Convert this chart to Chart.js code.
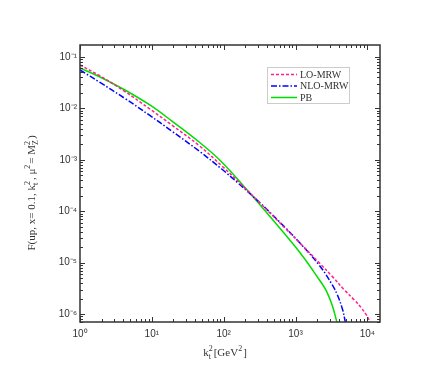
<!DOCTYPE html>
<html>
<head>
<meta charset="utf-8">
<script src="https://cdn.jsdelivr.net/npm/chart.js@4"></script>
<style>body{margin:0;background:#fff}</style>
</head>
<body>
<canvas id="myChart" width="442" height="387"></canvas>
<script>
// k_t^2 values and F values
const kLO = [1, 1.9, 4.22, 9.38, 18.9, 46.4, 96.8, 167, 316, 750, 1250, 2154, 3265, 4795, 6595, 8254, 9690, 11010]
const fLO = [0.0698, 0.0427, 0.0213, 9.73e-3, 4.75e-3, 1.85e-3, 7.35e-4, 3.54e-4, 1.47e-4, 4.39e-5, 2.14e-5, 9.8e-6, 5.34e-6, 2.93e-6, 1.87e-6, 1.31e-6, 9.6e-7, 6.9e-7]

const kNLO = [1, 1.9, 4.22, 9.38, 18.9, 46.4, 93.8, 156, 316, 750, 1136, 2154, 3265, 3831, 4496, 4948]
const fNLO = [0.0558, 0.0319, 0.0156, 7.28e-3, 3.63e-3, 1.45e-3, 6.62e-4, 3.6e-4, 1.48e-4, 4.53e-5, 2.46e-5, 8.8e-6, 3.66e-6, 2.34e-6, 1.25e-6, 6.9e-7]

const kPB = [1, 1.9, 4.22, 9.38, 18.9, 46.4, 88, 184, 435, 1136, 2154, 2697, 3265, 3707, 3768]
const fPB = [0.0611, 0.0408, 0.0228, 0.01164, 5.7e-3, 2.17e-3, 9.9e-4, 3.24e-4, 8.07e-5, 1.61e-5, 4.6e-6, 2.8e-6, 1.43e-6, 7.6e-7, 6.9e-7]

const seriesNames = ['LO-MRW', 'NLO-MRW', 'PB']
const seriesColors = ['#ff1f8f', '#0000ff', '#00dd00']
const seriesDash = [[3, 2], [6, 2, 1.5, 2], []]

const pts = (k, f) => k.map((v, i) => ({x: v, y: f[i]}))

const sup = {'-': '\u207b', '0': '\u2070', '1': '\u00b9', '2': '\u00b2', '3': '\u00b3', '4': '\u2074', '5': '\u2075', '6': '\u2076', '7': '\u2077', '8': '\u2078', '9': '\u2079'}

function mant(v) {
  const e = Math.floor(Math.log10(v) + 1e-9)
  const m = v / Math.pow(10, e)
  const r = Math.round(m)
  if (Math.abs(m - r) < 1e-6 && r >= 1 && r <= 9) return r
  return 0
}

function powLabel(v) {
  if (mant(v) !== 1) return ''
  const e = Math.round(Math.log10(v))
  return '10' + String(e).split('').map(c => sup[c]).join('')
}

function richText(ctx, parts, x, y, rot, size) {
  ctx.save()
  ctx.translate(x, y)
  ctx.rotate(rot)
  const big = size + 'px "Liberation Serif"'
  const small = Math.round(size * 0.7) + 'px "Liberation Serif"'
  let w = 0
  parts.forEach(p => {
    if (typeof p === 'string') { ctx.font = big; w += ctx.measureText(p).width }
    else { ctx.font = small; w += Math.max(ctx.measureText(p.sub || '').width, ctx.measureText(p.sup || '').width) + 1 }
  })
  let cx = -w / 2
  ctx.textBaseline = 'middle'
  ctx.textAlign = 'left'
  ctx.fillStyle = '#333'
  parts.forEach(p => {
    if (typeof p === 'string') {
      ctx.font = big
      ctx.fillText(p, cx, 0)
      cx += ctx.measureText(p).width
    } else {
      ctx.font = small
      if (p.sup) ctx.fillText(p.sup, cx, -size * 0.38)
      if (p.sub) ctx.fillText(p.sub, cx, size * 0.32)
      cx += Math.max(ctx.measureText(p.sub || '').width, ctx.measureText(p.sup || '').width) + 1
    }
  })
  ctx.restore()
}

const frame = {
  id: 'frame',
  afterDraw(chart) {
    const {ctx, chartArea: a, scales: {x, y}} = chart
    ctx.save()
    ctx.strokeStyle = '#333'
    ctx.lineWidth = 1
    const seg = (x1, y1, x2, y2) => { ctx.beginPath(); ctx.moveTo(x1, y1); ctx.lineTo(x2, y2); ctx.stroke() }
    x.ticks.forEach(t => {
      const m = mant(t.value)
      if (!m) return
      const px = Math.round(x.getPixelForValue(t.value)) + 0.5
      const len = m === 1 ? 5 : 3
      seg(px, a.bottom, px, a.bottom - len)
      seg(px, a.top, px, a.top + len)
    })
    y.ticks.forEach(t => {
      const m = mant(t.value)
      if (!m) return
      const py = Math.round(y.getPixelForValue(t.value)) + 0.5
      const len = m === 1 ? 5 : 3
      seg(a.left, py, a.left + len, py)
      seg(a.right, py, a.right - len, py)
    })
    ctx.lineWidth = 1.5
    ctx.strokeRect(a.left, a.top, a.right - a.left, a.bottom - a.top)

    // legend
    ctx.lineWidth = 1
    ctx.strokeStyle = '#ccc'
    ctx.strokeRect(267.5, 67.5, 82, 36)
    ctx.font = '10px "Liberation Serif"'
    ctx.textBaseline = 'middle'
    ctx.textAlign = 'left'
    seriesNames.forEach((n, i) => {
      const ly = 74.5 + i * 11.5
      ctx.strokeStyle = seriesColors[i]
      ctx.lineWidth = 1.5
      ctx.setLineDash(seriesDash[i])
      seg(271, ly, 297, ly)
      ctx.setLineDash([])
      ctx.fillStyle = '#333'
      ctx.fillText(n, 300, ly + 0.5)
    })
    ctx.restore()

    richText(ctx, ['F(up, x= 0.1, k', {sub: 't', sup: '2'}, ', \u03bc', {sup: '2'}, '= M', {sub: 'Z', sup: '2'}, ')'], 32, 193, -Math.PI / 2, 11)
    richText(ctx, ['k', {sub: 't', sup: '2'}, '[GeV', {sup: '2'}, ']'], 225, 353, 0, 11)
  }
}

const ctx = document.getElementById('myChart')
new Chart(ctx, {
  type: 'line',
  data: {
    datasets: [
      {label: seriesNames[0], data: pts(kLO, fLO), borderColor: seriesColors[0], borderDash: seriesDash[0]},
      {label: seriesNames[1], data: pts(kNLO, fNLO), borderColor: seriesColors[1], borderDash: seriesDash[1]},
      {label: seriesNames[2], data: pts(kPB, fPB), borderColor: seriesColors[2], borderDash: seriesDash[2]}
    ]
  },
  options: {
    responsive: false,
    animation: false,
    devicePixelRatio: 1,
    layout: {padding: {top: 45, right: 62, left: 0, bottom: 0}},
    plugins: {legend: {display: false}, tooltip: {enabled: false}},
    elements: {
      point: {radius: 0},
      line: {borderWidth: 1.5, fill: false, tension: 0.4}
    },
    scales: {
      x: {
        type: 'logarithmic', min: 1, max: 15000,
        grid: {display: false, drawTicks: false},
        border: {display: false},
        ticks: {autoSkip: false, maxRotation: 0, padding: 6, color: '#333',
          font: {family: 'Liberation Sans', size: 10}, callback: v => powLabel(v)},
        afterFit: s => { s.height = 65 }
      },
      y: {
        type: 'logarithmic', min: 7e-7, max: 0.171,
        grid: {display: false, drawTicks: false},
        border: {display: false},
        ticks: {autoSkip: false, padding: 3, color: '#333',
          font: {family: 'Liberation Sans', size: 10}, callback: v => powLabel(v)},
        afterFit: s => { s.width = 80 }
      }
    }
  },
  plugins: [frame]
})
</script>
</body>
</html>
